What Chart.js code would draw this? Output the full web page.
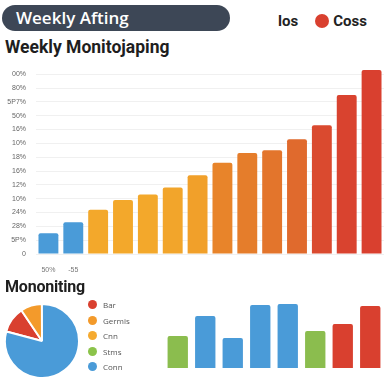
<!DOCTYPE html>
<html lang="en">
<head>
  <meta charset="UTF-8">
  <title>Weekly Monitoring</title>
  <script src="https://cdn.jsdelivr.net/npm/chart.js"></script>
  <style>
    body { margin: 0; width: 384px; height: 384px; background: #fff; position: relative; overflow: hidden; font-family: "Open Sans", sans-serif; }
    .pill { position: absolute; left: 2px; top: 5px; width: 228px; height: 26px; border-radius: 13px; background: #3d4756; color: #fff; font-size: 17px; font-weight: 600; line-height: 26px; padding-left: 14px; box-sizing: border-box; }
    .topLegend { position: absolute; left: 278px; top: 10px; font-family: Roboto, sans-serif; font-size: 15px; font-weight: 700; color: #222; line-height: 22px; }
    .topLegend .dot { display: inline-block; width: 14px; height: 14px; border-radius: 50%; background: #d9402f; vertical-align: -2px; margin: 0 4px 0 17px; }
    h1, h2 { position: absolute; left: 5px; margin: 0; font-family: Roboto, sans-serif; font-weight: 700; color: #1e1e1e; }
    h1 { top: 37px; font-size: 17.5px; }
    h2 { top: 277px; font-size: 16px; letter-spacing: -0.2px; }
    #mainWrap { position: absolute; left: 0; top: 60px; width: 384px; height: 220px; }
    #pieWrap { position: absolute; left: 2px; top: 301px; width: 80px; height: 80px; }
    #miniWrap { position: absolute; left: 164px; top: 300px; width: 220px; height: 70px; }
    #pieLegend { position: absolute; left: 88px; top: 300px; font-size: 8px; color: #555; }
    #pieLegend div { height: 15.5px; line-height: 10px; }
    #pieLegend span { display: inline-block; width: 9px; height: 9px; border-radius: 50%; margin-right: 6px; vertical-align: -1px; }
  </style>
</head>
<body>
  <div class="pill">Weekly Afting</div>
  <div class="topLegend">los<span class="dot"></span>Coss</div>
  <h1>Weekly Monitojaping</h1>
  <div id="mainWrap"><canvas id="mainChart"></canvas></div>
  <h2>Mononiting</h2>
  <div id="pieWrap"><canvas id="pieChart"></canvas></div>
  <div id="pieLegend"></div>
  <div id="miniWrap"><canvas id="miniChart"></canvas></div>

  <script>
    // main weekly bars
    const weeks = ['W1', 'W2', 'W3', 'W4', 'W5', 'W6', 'W7', 'W8', 'W9', 'W10', 'W11', 'W12', 'W13', 'W14'];
    const weekLabels = ['50%', '-55', '', '', '', '', '', '', '', '', '', '', '', ''];
    const weekValues = [15, 23, 32, 39, 43, 48, 57, 66, 73, 75, 83, 93, 115, 133];
    const weekColors = ['#4a9bd8', '#4a9bd8', '#f3a82b', '#f3a82b', '#f3a82b', '#f2a52b', '#f1a02a',
      '#e8842a', '#e57d2b', '#e3752c', '#e06a2d', '#da4a2f', '#d9432f', '#d9402f'];
    const yTickLabels = ['0', '5P%', '28%', '24%', '10%', '12%', '16%', '18%', '10%', '16%', '50%', '5P7%', '80%', '00%'];

    // pie
    const pieLabels = ['Bar', 'Germis', 'Cnn', 'Stms', 'Conn'];
    const pieValues = [11.4, 9.4, 0, 0, 79.2];
    const pieColors = ['#d9402f', '#f39a2b', '#f5aa30', '#8bc34a', '#4a9bd8'];

    // small bars
    const miniCats = ['A', 'B', 'C', 'D', 'E', 'F', 'G', 'H'];
    const miniValues = [32, 52, 30, 63, 64, 37, 44, 62];
    const miniColors = ['#8bbd4e', '#4a9bd8', '#4a9bd8', '#4a9bd8', '#4a9bd8', '#8bbd4e', '#d9402f', '#d9402f'];

    new Chart(document.getElementById('mainChart'), {
      type: 'bar',
      data: {
        labels: weeks,
        datasets: [{
          data: weekValues,
          backgroundColor: weekColors,
          borderRadius: 2,
          barPercentage: 0.8,
          categoryPercentage: 1,
          clip: false
        }]
      },
      options: {
        responsive: true,
        maintainAspectRatio: false,
        animation: false,
        layout: { padding: { top: 8, right: 0, left: 0, bottom: 0 } },
        plugins: { legend: { display: false }, tooltip: { enabled: false } },
        scales: {
          x: {
            grid: { display: false },
            border: { display: false },
            ticks: {
              color: '#777',
              font: { size: 7 },
              padding: 4,
              maxRotation: 0,
              autoSkip: false,
              callback: (v, i) => weekLabels[i]
            },
            afterFit: s => { s.height = 26; }
          },
          y: {
            min: 0,
            max: 130,
            ticks: {
              stepSize: 10,
              color: '#666',
              font: { size: 7 },
              padding: 10,
              callback: (v, i) => yTickLabels[i]
            },
            grid: { color: '#f0f0f0', drawTicks: false },
            border: { display: false },
            afterFit: s => { s.width = 36; }
          }
        }
      }
    });

    new Chart(document.getElementById('pieChart'), {
      type: 'pie',
      data: {
        labels: pieLabels,
        datasets: [{
          data: pieValues,
          backgroundColor: pieColors,
          borderColor: '#fff',
          borderWidth: 2
        }]
      },
      options: {
        responsive: true,
        maintainAspectRatio: false,
        animation: false,
        rotation: 285,
        layout: { padding: 2 },
        plugins: { legend: { display: false }, tooltip: { enabled: false } }
      }
    });

    document.getElementById('pieLegend').innerHTML = pieLabels.map((l, i) =>
      '<div><span style="background:' + pieColors[i] + '"></span>' + l + '</div>').join('');

    new Chart(document.getElementById('miniChart'), {
      type: 'bar',
      data: {
        labels: miniCats,
        datasets: [{
          data: miniValues,
          backgroundColor: miniColors,
          borderRadius: 2,
          barPercentage: 0.74,
          categoryPercentage: 1
        }]
      },
      options: {
        responsive: true,
        maintainAspectRatio: false,
        animation: false,
        layout: { padding: { top: 4, bottom: 2 } },
        plugins: { legend: { display: false }, tooltip: { enabled: false } },
        scales: {
          x: { display: false },
          y: { display: false, min: 0, max: 64 }
        }
      }
    });
  </script>
</body>
</html>
